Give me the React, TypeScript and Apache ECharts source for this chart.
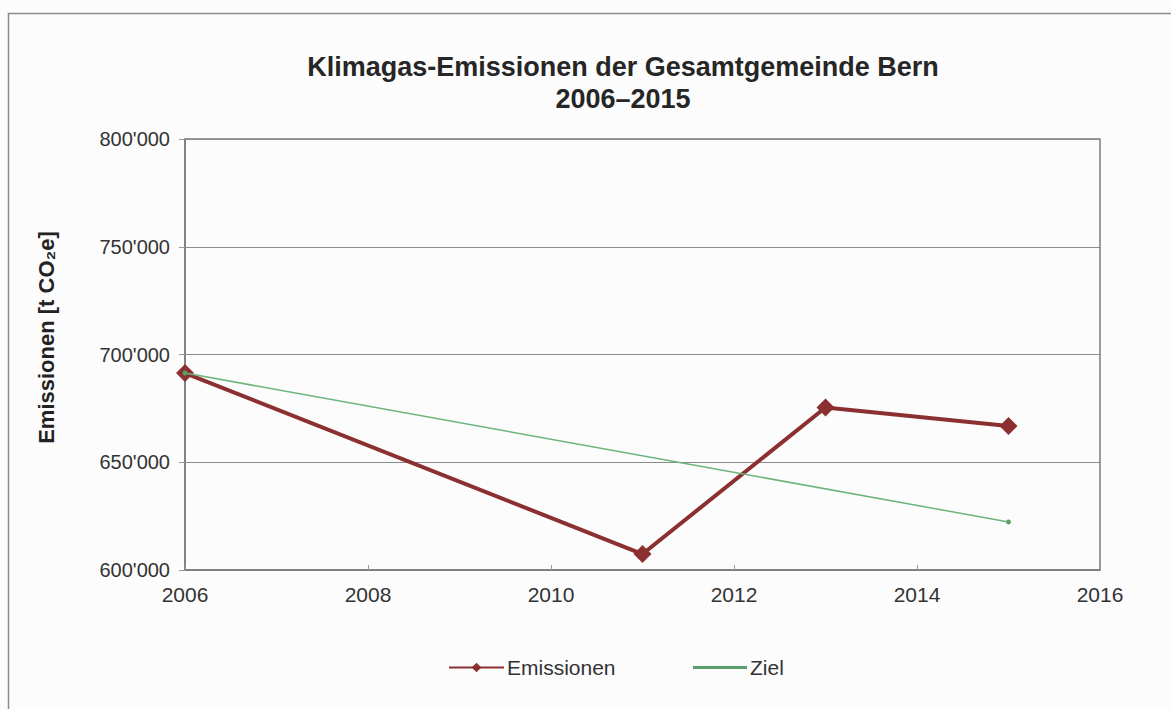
import React, { useEffect, useRef } from "react";
import * as echarts from "echarts";

const emissionYears = [2006, 2011, 2013, 2015];
const emissionValues = [691400, 607400, 675400, 666800];
const targetYears = [2006, 2015];
const targetValues = [691400, 622300];
const titleLines = ["Klimagas-Emissionen der Gesamtgemeinde Bern", "2006–2015"];
const yAxisName = "Emissionen [t CO₂e]";

const fmt = (v: number) => {
  const s = String(Math.round(v));
  return s.replace(/\B(?=(\d{3})+(?!\d))/g, "'");
};

export default function App() {
  const ref = useRef<HTMLDivElement>(null);
  useEffect(() => {
    if (!ref.current) return;
    const chart = echarts.init(ref.current, null, { renderer: "svg" });
    const font = "'Liberation Sans', Arial, sans-serif";
    const legendText = { fontSize: 21, color: "#333", fontFamily: font };
    chart.setOption({
      animation: false,
      backgroundColor: "#fcfcfc",
      textStyle: { fontFamily: font },
      title: {
        text: titleLines.join("\n"),
        left: 618,
        textAlign: "center",
        top: 46,
        textStyle: { fontSize: 27, fontWeight: "bold", color: "#262626", lineHeight: 32, fontFamily: font },
      },
      graphic: [
        {
          type: "rect",
          shape: { x: 8.5, y: 13.5, width: 1180, height: 720 },
          style: { fill: "none", stroke: "#8a8a8a", lineWidth: 1.5 },
          silent: true,
        },
      ],
      grid: { left: 185, right: 71, top: 139, bottom: 139, show: true, borderColor: "#7a7a7a", borderWidth: 1.5, backgroundColor: "transparent" },
      xAxis: {
        type: "value",
        min: 2006,
        max: 2016,
        interval: 2,
        axisLine: { show: true, lineStyle: { color: "#7a7a7a", width: 1.5 } },
        axisTick: { show: true, inside: true, length: 5, lineStyle: { color: "#999" } },
        splitLine: { show: false },
        axisLabel: { color: "#333", fontSize: 21, margin: 14, fontFamily: font, formatter: (v: number) => String(v) },
      },
      yAxis: {
        type: "value",
        min: 600000,
        max: 800000,
        interval: 50000,
        name: yAxisName,
        nameLocation: "middle",
        nameGap: 128,
        nameTextStyle: { fontSize: 22, fontWeight: "bold", color: "#222", fontFamily: font, padding: [0, 0, 0, 34] },
        axisLine: { show: true, lineStyle: { color: "#7a7a7a", width: 1.5 } },
        axisTick: { show: true, length: 6, lineStyle: { color: "#999" } },
        splitLine: { show: true, lineStyle: { color: "#8a8a8a", width: 1 } },
        axisLabel: { color: "#333", fontSize: 20, margin: 15, formatter: fmt, fontFamily: font },
      },
      legend: [
        {
          top: 652,
          left: 443,
          itemWidth: 55,
          itemHeight: 12,
          itemGap: 0,
          textStyle: { ...legendText, padding: [0, 0, 0, -2] },
          data: [{ name: "Emissionen" }],
        },
        {
          top: 652,
          left: 688,
          itemWidth: 54,
          itemHeight: 12,
          itemGap: 0,
          textStyle: { ...legendText, padding: [0, 0, 0, -2] },
          data: [{ name: "Ziel", icon: "path://M0,0 L54,0 L54,3 L0,3 Z" }],
        },
      ],
      series: [
        {
          name: "Ziel",
          type: "line",
          data: targetYears.map((y, i) => [y, targetValues[i]]),
          lineStyle: { color: "#6bb57c", width: 1.5 },
          itemStyle: { color: "#5aa06b" },
          symbol: "circle",
          symbolSize: 5,
          z: 3,
        },
        {
          name: "Emissionen",
          type: "line",
          data: emissionYears.map((y, i) => [y, emissionValues[i]]),
          lineStyle: { color: "#8c2f30", width: 4 },
          itemStyle: { color: "#8c2f30" },
          symbol: "diamond",
          symbolSize: 18,
          z: 2,
        },
      ],
    });
    return () => chart.dispose();
  }, []);
  return (
    <div
      ref={ref}
      style={{ position: "fixed", left: 0, top: 0, width: 1171, height: 709 }}
    />
  );
}
